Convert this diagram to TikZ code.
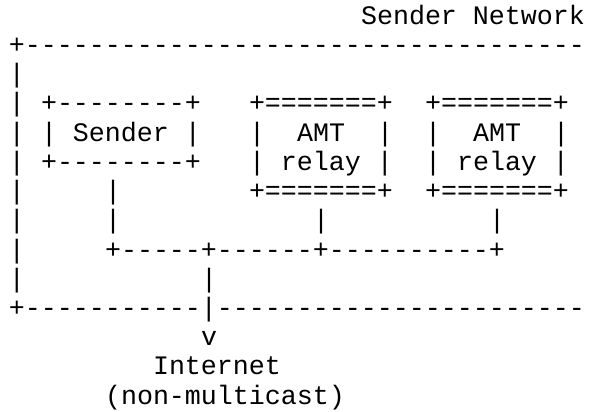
\documentclass[tikz,border=0pt]{standalone}
\usepackage{fontspec}
\newfontfamily\asciifont{Liberation Mono}
% one text cell grid: 16 units per column, 29.2 units per row
\tikzset{
  chars/.style={anchor=base west, inner sep=0pt, outer sep=0pt, text=black,
    font=\asciifont\fontsize{13.333pt}{16pt}\selectfont},
}
\newcommand\putchars[4]{\node[chars] (#1) at ({9+16*#2},{112+29.2*(#3-3)}) {#4};}
\begin{document}
\begin{tikzpicture}[x=0.5pt,y=-0.5pt]
\useasboundingbox (0,0) rectangle (590,412);
% network label and outer frame
\putchars{netlabel}{22}{0}{Sender Network}
\putchars{frametop}{0}{1}{+-----------------------------------}
\foreach \r in {2,...,9} {\putchars{frameside\r}{0}{\r}{|}}
\putchars{framebottom}{0}{10}{+-----------|-----------------------}
% sender box
\putchars{sendertop}{2}{3}{+--------+}
\putchars{sendermid}{2}{4}{| Sender |}
\putchars{senderbot}{2}{5}{+--------+}
% first relay box
\putchars{relayAtop}{15}{3}{+=======+}
\putchars{relayAl}{15}{4}{|}
\putchars{relayAname}{18}{4}{AMT}
\putchars{relayAr}{23}{4}{|}
\putchars{relayAmid}{15}{5}{| relay |}
\putchars{relayAbot}{15}{6}{+=======+}
% second relay box
\putchars{relayBtop}{26}{3}{+=======+}
\putchars{relayBl}{26}{4}{|}
\putchars{relayBname}{29}{4}{AMT}
\putchars{relayBr}{34}{4}{|}
\putchars{relayBmid}{26}{5}{| relay |}
\putchars{relayBbot}{26}{6}{+=======+}
% drops to the shared segment
\putchars{senderdropA}{6}{6}{|}
\putchars{senderdropB}{6}{7}{|}
\putchars{relayAdrop}{19}{7}{|}
\putchars{relayBdrop}{30}{7}{|}
\putchars{lan}{6}{8}{+-----+------+----------+}
\putchars{uplink}{12}{9}{|}
% path out to the internet
\putchars{arrowhead}{12}{11}{v}
\putchars{inet}{9}{12}{Internet}
\putchars{inetnote}{6}{13}{(non-multicast)}
\end{tikzpicture}
\end{document}
